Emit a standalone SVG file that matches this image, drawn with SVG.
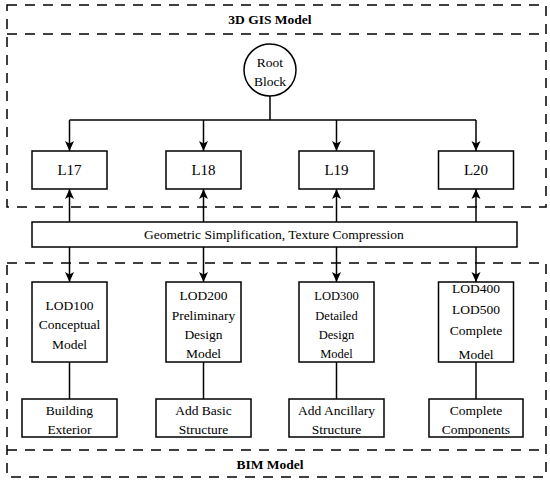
<svg xmlns="http://www.w3.org/2000/svg" width="550" height="484" viewBox="0 0 550 484" font-family="Liberation Serif, DejaVu Serif, serif">
<defs>
<marker id="ah" markerWidth="10" markerHeight="10" viewBox="0 0 10 10" refX="10" refY="5" orient="auto" markerUnits="userSpaceOnUse">
<path d="M0,0.5 L10,5 L0,9.5 L2.5,5 Z" fill="#000"/>
</marker>
<style>
.dash{fill:none;stroke:#000;stroke-width:1.5;stroke-dasharray:10,8}
.box{fill:#fff;stroke:#000;stroke-width:1.5}
.t{font-size:13.5px;fill:#000;text-anchor:middle}
.s{font-size:12.5px}
.l{font-size:15px}
.b{font-weight:bold}
.c{fill:none;stroke:#000;stroke-width:1.5}
.a{marker-end:url(#ah)}
</style>
</defs>
<g id="gis-frame">
<rect class="dash" x="7" y="5" width="539" height="202"/>
<line class="dash" x1="7" y1="34" x2="546" y2="34"/>
<text class="t b" x="270" y="24" font-family="Liberation Serif">3D GIS Model</text>
</g>
<g id="bim-frame">
<rect class="dash" x="7" y="263" width="539" height="214"/>
<line class="dash" x1="7" y1="450" x2="546" y2="450"/>
<text class="t b" x="270" y="469" font-family="Liberation Serif">BIM Model</text>
</g>
<g id="connectors">
<line class="c" x1="270" y1="96" x2="270" y2="120"/>
<line class="c" x1="69.5" y1="120" x2="476" y2="120"/>
<line class="c a" x1="69.5" y1="120" x2="69.5" y2="151"/>
<line class="c a" x1="203.5" y1="120" x2="203.5" y2="151"/>
<line class="c a" x1="336.5" y1="120" x2="336.5" y2="151"/>
<line class="c a" x1="476" y1="120" x2="476" y2="151"/>
<line class="c a" x1="69.5" y1="222" x2="69.5" y2="189"/>
<line class="c a" x1="203.5" y1="222" x2="203.5" y2="189"/>
<line class="c a" x1="336.5" y1="222" x2="336.5" y2="189"/>
<line class="c a" x1="476" y1="222" x2="476" y2="189"/>
<line class="c a" x1="69.5" y1="247" x2="69.5" y2="282"/>
<line class="c a" x1="203.5" y1="247" x2="203.5" y2="282"/>
<line class="c a" x1="336.5" y1="247" x2="336.5" y2="282"/>
<line class="c a" x1="476" y1="247" x2="476" y2="282"/>
<line class="c" x1="69.5" y1="362" x2="69.5" y2="399"/>
<line class="c" x1="203.5" y1="362" x2="203.5" y2="399"/>
<line class="c" x1="336.5" y1="362" x2="336.5" y2="399"/>
<line class="c" x1="476" y1="362" x2="476" y2="399"/>
</g>
<g id="root" font-family="Liberation Serif">
<circle class="box" cx="270" cy="70" r="26"/>
<text class="t" x="270" y="67">Root</text>
<text class="t" x="270" y="86">Block</text>
</g>
<g id="L17" font-family="Liberation Serif"><rect class="box" x="32" y="151" width="75" height="38"/><text class="t l" x="69.5" y="175">L17</text></g>
<g id="L18" font-family="Liberation Serif"><rect class="box" x="166" y="151" width="75" height="38"/><text class="t l" x="203.5" y="175">L18</text></g>
<g id="L19" font-family="Liberation Serif"><rect class="box" x="299" y="151" width="75" height="38"/><text class="t l" x="336.5" y="175">L19</text></g>
<g id="L20" font-family="Liberation Serif"><rect class="box" x="438.5" y="151" width="75" height="38"/><text class="t l" x="476" y="175">L20</text></g>
<g id="geometric" font-family="Liberation Serif">
<rect class="box" x="32" y="222" width="485" height="25"/>
<text class="t" x="274" y="239">Geometric Simplification, Texture Compression</text>
</g>
<g id="LOD100" font-family="Liberation Serif"><rect class="box" x="32" y="282" width="75" height="80"/>
<text class="t" x="69.5" y="310">LOD100</text><text class="t" x="69.5" y="329">Conceptual</text><text class="t" x="69.5" y="349">Model</text></g>
<g id="LOD200" font-family="Liberation Serif"><rect class="box" x="166" y="282" width="75" height="80"/>
<text class="t" x="203.5" y="300">LOD200</text><text class="t" x="203.5" y="320">Preliminary</text><text class="t" x="203.5" y="339">Design</text><text class="t" x="203.5" y="358">Model</text></g>
<g id="LOD300" font-family="Liberation Serif"><rect class="box" x="299" y="282" width="75" height="80"/>
<text class="t s" x="336.5" y="300">LOD300</text><text class="t s" x="336.5" y="320">Detailed</text><text class="t s" x="336.5" y="339">Design</text><text class="t s" x="336.5" y="358">Model</text></g>
<g id="LOD400" font-family="Liberation Serif"><rect class="box" x="438.5" y="282" width="75" height="80"/>
<text class="t" x="476" y="293">LOD400</text><text class="t" x="476" y="314">LOD500</text><text class="t" x="476" y="335">Complete</text><text class="t" x="476" y="359">Model</text></g>
<g id="building-exterior" font-family="Liberation Serif"><rect class="box" x="22" y="399" width="95" height="38"/>
<text class="t" x="69.5" y="415">Building</text><text class="t" x="69.5" y="434">Exterior</text></g>
<g id="add-basic" font-family="Liberation Serif"><rect class="box" x="156" y="399" width="95" height="38"/>
<text class="t" x="203.5" y="415">Add Basic</text><text class="t" x="203.5" y="434">Structure</text></g>
<g id="add-ancillary" font-family="Liberation Serif"><rect class="box" x="289" y="399" width="95" height="38"/>
<text class="t" x="336.5" y="415">Add Ancillary</text><text class="t" x="336.5" y="434">Structure</text></g>
<g id="complete-components" font-family="Liberation Serif"><rect class="box" x="429" y="399" width="94" height="38"/>
<text class="t" x="476" y="415">Complete</text><text class="t" x="476" y="434">Components</text></g>
</svg>
